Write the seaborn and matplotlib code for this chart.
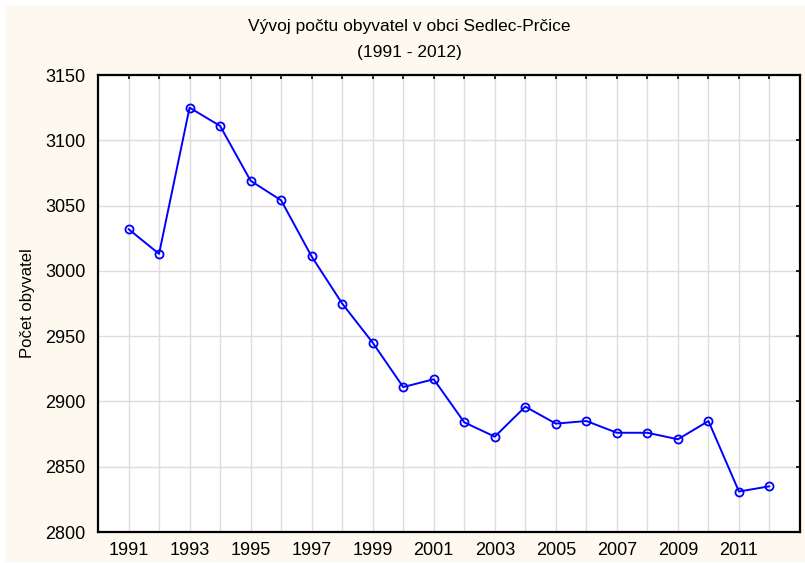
import numpy as np
import pandas as pd
import matplotlib
matplotlib.use("Agg")
import matplotlib.pyplot as plt
import seaborn as sns
from matplotlib.patches import Rectangle

# Data
years = [1991, 1992, 1993, 1994, 1995, 1996, 1997, 1998, 1999, 2000, 2001,
         2002, 2003, 2004, 2005, 2006, 2007, 2008, 2009, 2010, 2011, 2012]
population = [3032, 3013, 3125, 3111, 3069, 3054, 3011, 2975, 2945, 2911, 2917,
              2884, 2873, 2896, 2883, 2885, 2876, 2876, 2871, 2885, 2831, 2835]
y_ticks = [2800, 2850, 2900, 2950, 3000, 3050, 3100, 3150]
x_labels = [str(y) if y % 2 == 1 else "" for y in years]

df = pd.DataFrame({"rok": years, "obyvatel": population})

sns.set_style("white")
plt.rcParams["font.family"] = ["Liberation Sans", "DejaVu Sans"]
plt.rcParams["text.color"] = "black"
plt.rcParams["axes.labelcolor"] = "black"

fig = plt.figure(figsize=(8.05, 5.63), dpi=100, facecolor="white")
# cream panel behind the chart
fig.patches.append(Rectangle((5 / 805, 1 / 563), 800 / 805, 556 / 563,
                             transform=fig.transFigure, facecolor="#FEF9EF",
                             edgecolor="none", zorder=-5))

ax = fig.add_axes([98 / 805, 31 / 563, 702 / 805, 457 / 563])
ax.set_zorder(2)
ax.set_facecolor("white")

sns.lineplot(data=df, x="rok", y="obyvatel", ax=ax, color="#0000FF",
             linewidth=1.4, marker="o", markersize=5.8,
             markerfacecolor="none", markeredgecolor="#0000FF",
             markeredgewidth=1.3, zorder=3)

ax.set_xlim(1990, 2013)
ax.set_ylim(2800, 3150)
ax.set_xticks(years)
ax.set_xticklabels(x_labels)
ax.set_yticks(y_ticks)
ax.grid(True, color="#DDDDDD", linewidth=1)
ax.set_axisbelow(True)

for side in ["left", "right", "top", "bottom"]:
    ax.spines[side].set_visible(True)
    ax.spines[side].set_color("black")
    ax.spines[side].set_linewidth(1.6)

ax.tick_params(axis="both", direction="in", length=3, width=1.2,
               top=True, right=True, labelsize=13, colors="black")
ax.tick_params(axis="x", pad=7)
ax.tick_params(axis="y", pad=9)

ax.set_xlabel("")
ax.set_ylabel("Počet obyvatel", fontsize=12, labelpad=7)

fig.text(409 / 805, 1 - 27 / 563, "Vývoj počtu obyvatel v obci Sedlec-Prčice",
         ha="center", va="center", fontsize=12.5)
fig.text(409 / 805, 1 - 52 / 563, "(1991 - 2012)",
         ha="center", va="center", fontsize=12.5)

fig.savefig("out.png", dpi=100, facecolor="white")
